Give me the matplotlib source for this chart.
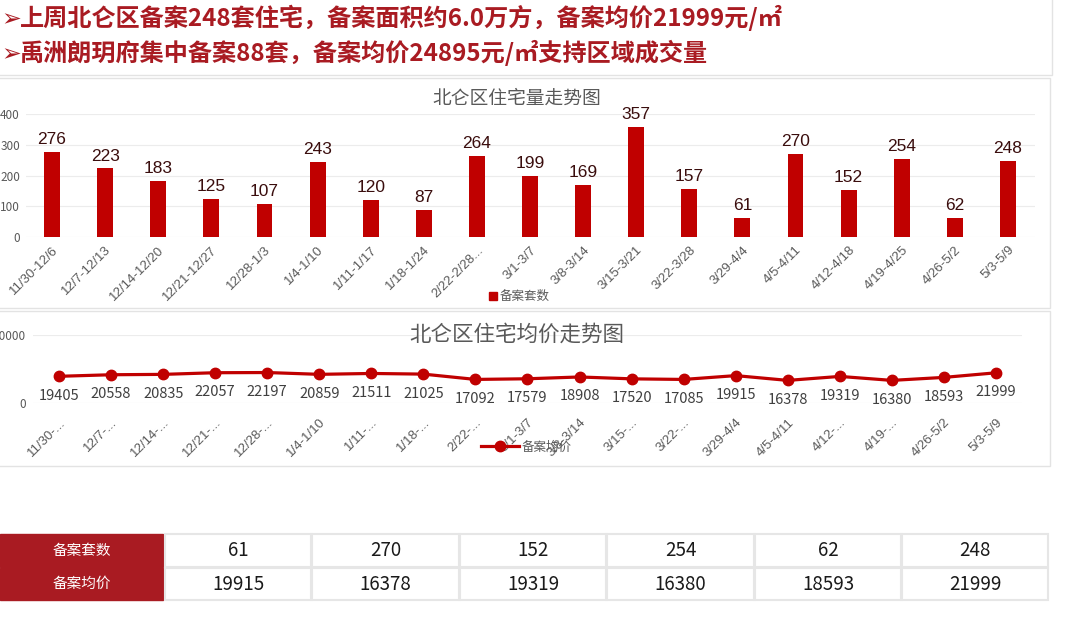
import matplotlib.pyplot as plt
from matplotlib.patches import Rectangle
from matplotlib.lines import Line2D

plt.rcParams['font.family'] = ['Noto Sans CJK SC', 'DejaVu Sans']

# ---- data ----
weeks = ['11/30-12/6', '12/7-12/13', '12/14-12/20', '12/21-12/27', '12/28-1/3',
         '1/4-1/10', '1/11-1/17', '1/18-1/24', '2/22-2/28...', '3/1-3/7',
         '3/8-3/14', '3/15-3/21', '3/22-3/28', '3/29-4/4', '4/5-4/11',
         '4/12-4/18', '4/19-4/25', '4/26-5/2', '5/3-5/9']
weeks_short = ['11/30-...', '12/7-...', '12/14-...', '12/21-...', '12/28-...',
               '1/4-1/10', '1/11-...', '1/18-...', '2/22-...', '3/1-3/7',
               '3/8-3/14', '3/15-...', '3/22-...', '3/29-4/4', '4/5-4/11',
               '4/12-...', '4/19-...', '4/26-5/2', '5/3-5/9']
counts = [276, 223, 183, 125, 107, 243, 120, 87, 264, 199, 169, 357, 157, 61,
          270, 152, 254, 62, 248]
prices = [19405, 20558, 20835, 22057, 22197, 20859, 21511, 21025, 17092, 17579,
          18908, 17520, 17085, 19915, 16378, 19319, 16380, 18593, 21999]

header_lines = ['上周北仑区备案248套住宅，备案面积约6.0万方，备案均价21999元/㎡',
                '禹洲朗玥府集中备案88套，备案均价24895元/㎡支持区域成交量']
table_rows = ['备案套数', '备案均价']
table_counts = counts[-6:]
table_prices = prices[-6:]

W, H = 1080, 622
fig = plt.figure(figsize=(W / 100, H / 100), dpi=100)
red = '#c00000'
dark_red = '#a91b22'
gray = '#595959'


def box(x0, y0, x1, y1):
    # pixel coords (top-left origin) -> figure fraction rect
    return [x0 / W, 1 - y1 / H, (x1 - x0) / W, (y1 - y0) / H]


def px(x, y):
    return x / W, 1 - y / H


# panel frames
for (x0, y0, x1, y1) in [(-2, -2, 1052, 75), (-2, 78, 1050, 308), (-2, 311, 1050, 466)]:
    fig.patches.append(Rectangle(px(x0, y1), (x1 - x0) / W, (y1 - y0) / H,
                                 transform=fig.transFigure, fill=False,
                                 edgecolor='#e3e3e3', lw=1))

# header text
for i, line in enumerate(header_lines):
    x, y = px(1, 19 + 35 * i)
    fig.text(x, y, '➢', color=dark_red, fontsize=17, va='center',
             family=['DejaVu Sans'])
    x, y = px(20, 18 + 35 * i)
    fig.text(x, y, line, color=dark_red, fontsize=17.4, fontweight='bold', va='center')

# ---- bar chart ----
n = len(counts)
xs = list(range(n))
ax1 = fig.add_axes(box(25.5, 114, 1034.5, 237))
ax1.bar(xs, counts, width=0.3, color=red)
for x, v in zip(xs, counts):
    ax1.text(x, v + 16, str(v), ha='center', va='bottom', fontsize=12.5,
             color='#3a0d0d', family=['Liberation Sans'])
ax1.set_xlim(-0.5, n - 0.5)
ax1.set_ylim(0, 400)
ax1.set_yticks([0, 100, 200, 300, 400])
ax1.set_xticks(xs)
ax1.set_xticklabels(weeks, rotation=45, ha='right', rotation_mode='anchor',
                    fontsize=9.5, color=gray, family=['Liberation Sans'])
ax1.tick_params(axis='y', labelsize=8.5, labelcolor=gray, length=0, pad=4)
ax1.tick_params(axis='x', length=0, pad=5)
ax1.grid(axis='y', color='#ececec', lw=0.8)
ax1.set_axisbelow(True)
for s in ax1.spines.values():
    s.set_visible(False)
x, y = px(517, 98)
fig.text(x, y, '北仑区住宅量走势图', ha='center', va='center', fontsize=13.5, color=gray)
x, y = px(489, 296)
fig.patches.append(Rectangle((x, y - 4 / H), 8 / W, 8 / H, transform=fig.transFigure,
                             color=red))
x, y = px(500, 296)
fig.text(x, y, '备案套数', va='center', fontsize=9, color=gray)

# ---- line chart ----
ax2 = fig.add_axes(box(33, 335, 1022, 402.5))
ax2.plot(xs, prices, color=red, lw=2.3, marker='o', markersize=7.5)
for x, v in zip(xs, prices):
    ax2.annotate(str(v), (x, v), xytext=(0, -9), textcoords='offset points',
                 ha='center', va='top', fontsize=10.5, color='#404040')
ax2.set_xlim(-0.5, n - 0.5)
ax2.set_ylim(0, 50000)
ax2.set_yticks([0, 50000])
ax2.set_xticks(xs)
ax2.set_xticklabels(weeks_short, rotation=45, ha='right', rotation_mode='anchor',
                    fontsize=9.5, color=gray, family=['Liberation Sans'])
ax2.tick_params(axis='y', labelsize=8.5, labelcolor=gray, length=0, pad=5)
ax2.tick_params(axis='x', length=0, pad=10)
ax2.grid(axis='y', color='#ececec', lw=0.8)
for s in ax2.spines.values():
    s.set_visible(False)
x, y = px(517, 335)
fig.text(x, y, '北仑区住宅均价走势图', ha='center', va='center', fontsize=15.5, color=gray)
fig.legend(handles=[Line2D([], [], color=red, lw=2.3, marker='o', markersize=7.5)],
           labels=['备案均价'], loc='center left', bbox_to_anchor=px(470, 447),
           frameon=False, fontsize=9, labelcolor=gray, handlelength=3, handletextpad=0.2)

# ---- table ----
row_y = [(534, 567), (568, 600)]
col_x = [(165, 311), (312, 459), (460, 606), (607, 754), (755, 901), (902, 1048)]
for r, (label, vals) in enumerate(zip(table_rows, [table_counts, table_prices])):
    y0, y1 = row_y[r]
    fig.patches.append(Rectangle(px(0, y1), 163 / W, (y1 - y0) / H,
                                 transform=fig.transFigure, color=dark_red))
    x, y = px(82, (y0 + y1) / 2)
    fig.text(x, y, label, ha='center', va='center', fontsize=10.5, color='white')
    for (x0, x1), v in zip(col_x, vals):
        fig.patches.append(Rectangle(px(x0, y1), (x1 - x0) / W, (y1 - y0) / H,
                                     transform=fig.transFigure, facecolor='white',
                                     edgecolor='#e6e6e6', lw=1.5))
        x, y = px((x0 + x1) / 2, (y0 + y1) / 2)
        fig.text(x, y, str(v), ha='center', va='center', fontsize=13.5, color='#1a1a1a')

fig.savefig('out.png', dpi=100, facecolor='white')
